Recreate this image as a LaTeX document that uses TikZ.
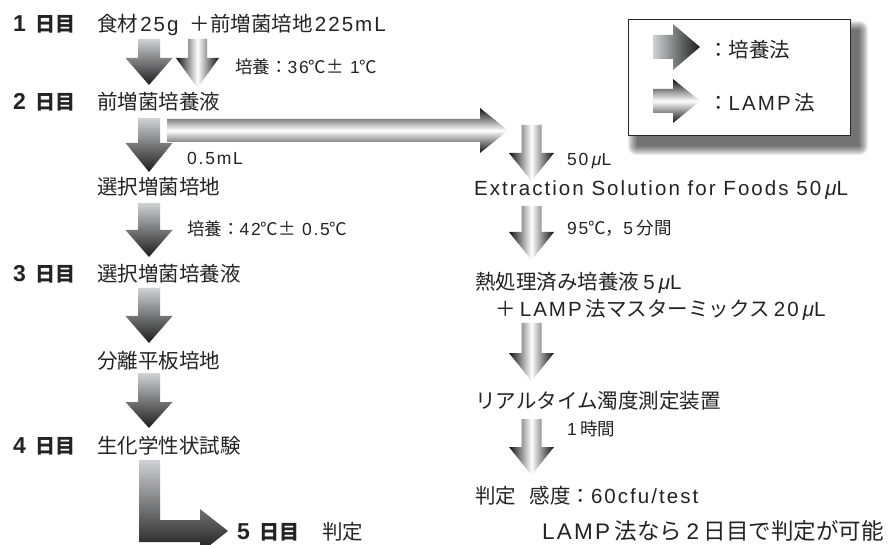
\documentclass[tikz,border=0pt]{standalone}
\usepackage{fontspec}
\setmainfont{Noto Sans CJK JP}
\newfontfamily\lat{Liberation Sans}[Scale=1.0,LetterSpace=10]
\newcommand\la[1]{{\lat #1}}
\newcommand\mic{{\lat\itshape μ}}
\newcommand\g{\hspace{0.2em}}
\newcommand\gs{\hspace{0.1em}}
\newcommand\dnum[1]{\makebox[22pt][l]{\fontsize{23}{24}\selectfont\la{#1}}}
\definecolor{cultlight}{RGB}{208,209,211}
\definecolor{cultdark}{RGB}{28,28,28}
\definecolor{lampdark}{RGB}{15,15,15}
\definecolor{txtc}{RGB}{35,35,35}
\tikzset{
  txt/.style={anchor=west, inner sep=0pt, text=txtc, font=\fontsize{20.5}{24}\selectfont, text height=18pt, text depth=2.5pt},
  sml/.style={txt, font=\fontsize{17.5}{20}\selectfont, text height=15.4pt, text depth=2.1pt},
  daylab/.style={txt, font=\fontsize{20}{24}\selectfont\bfseries},
  bigtxt/.style={txt, font=\fontsize{22.5}{26}\selectfont, text height=19.8pt, text depth=2.7pt},
  cultV/.style={top color=cultlight, bottom color=cultdark},
  cultH/.style={left color=cultlight, right color=cultdark},
  lampV/.style={left color=lampdark, right color=lampdark, middle color=white},
  lampH/.style={top color=lampdark, bottom color=lampdark, middle color=white},
}
% vertical block arrow: style, cx, top, head start, tip, shaft half width, head half width
\newcommand\varrow[7]{\shade[#1] (#2-#6,#3) -- (#2+#6,#3) -- (#2+#6,#4) -- (#2+#7,#4) -- (#2,#5) -- (#2-#7,#4) -- (#2-#6,#4) -- cycle;}
% horizontal block arrow: style, cy, left, head start, tip, shaft half, head half
\newcommand\harrow[7]{\shade[#1] (#3,#2-#6) -- (#4,#2-#6) -- (#4,#2-#7) -- (#5,#2) -- (#4,#2+#7) -- (#4,#2+#6) -- (#3,#2+#6) -- cycle;}
\begin{document}
\begin{tikzpicture}[x=1pt,y=-1pt]
\useasboundingbox (0,0) rectangle (889,545);
\fill[white] (0,0) rectangle (889,545);
\clip (0,0) rectangle (889,545);

% ---------- legend ----------
\foreach \i in {0,...,9} {
  \fill[black, opacity=0.075, rounded corners=\i pt] (628+9-\i,19+11-\i) rectangle (850+9+\i,135+11+\i);
}
\node[draw=black!85, line width=1.3pt, fill=white, inner sep=0pt, minimum width=222pt, minimum height=116pt, anchor=north west] (legend) at (628,19) {};
\harrow{cultH}{47}{653}{673}{700}{12}{23}
\harrow{lampH}{101}{653}{673}{700}{12}{22}
\node[txt] (lg1) at (708,50) {：培養法};
\node[txt] (lg2) at (708,103) {：\la{LAMP}\g{}法};

% ---------- culture method (left) ----------
\node[daylab] (d1) at (13,24) {\dnum{1}日目};
\node[txt] (t1) at (97,24) {食材\gs{}\la{25g}\hspace{0.55em}＋前増菌培地\gs{}\la{225mL}};
\varrow{cultV}{149}{39}{58}{85}{11}{23.5}
\varrow{lampV}{197.5}{39}{58}{88}{9.5}{21.5}
\node[sml] (c1) at (235,67) {培養：\la{36}℃±\hspace{0.35em}\la{1}℃};

\node[daylab] (d2) at (13,102) {\dnum{2}日目};
\node[txt] (t2) at (97,102) {前増菌培養液};
\varrow{cultV}{149}{118}{143}{172}{11}{23.5}
\harrow{lampH}{130.5}{167}{480}{508}{11.5}{22.5}
\node[sml] (l05) at (187,158) {\la{0.5mL}};

\node[txt] (t3) at (97,187) {選択増菌培地};
\varrow{cultV}{149}{203}{230}{257}{11}{23.5}
\node[sml] (c2) at (187,229) {培養：\la{42}℃±\hspace{0.35em}\la{0.5}℃};

\node[daylab] (d3) at (13,274) {\dnum{3}日目};
\node[txt] (t4) at (97,274) {選択増菌培養液};
\varrow{cultV}{149}{288}{316}{343}{11}{23.5}

\node[txt] (t5) at (97,361) {分離平板培地};
\varrow{cultV}{149}{373}{402}{428}{11}{23.5}

\node[daylab] (d4) at (13,446) {\dnum{4}日目};
\node[txt] (t6) at (97,446) {生化学性状試験};
\shade[cultV] (139,460) -- (160,460) -- (160,520) -- (200,520) -- (200,509) -- (228,531) -- (200,553) -- (200,542) -- (139,542) -- cycle;

\node[daylab] (d5) at (237,532) {\dnum{5}日目};
\node[txt] (t7) at (322,532) {判定};

% ---------- LAMP method (right) ----------
\varrow{lampV}{531.5}{125}{153}{181}{10}{22.5}
\node[sml] (r0) at (567,159) {\la{50}\g{}\mic\la{L}};
\node[txt] (r1) at (474,188) {\la{Extraction Solution for Foods 50}\g{}\mic\la{L}};
\varrow{lampV}{531.5}{206}{232}{260}{10}{22.5}
\node[sml] (r2) at (567,228) {\la{95}℃，\la{5}\g{}分間};
\node[txt] (r3) at (475,282) {熱処理済み培養液\g{}\la{5}\g{}\mic\la{L}};
\node[txt] (r4) at (495,309) {＋\g{}\la{LAMP}\g{}法マスターミックス\g{}\la{20}\g{}\mic\la{L}};
\varrow{lampV}{531.5}{323}{353}{381}{10}{22.5}
\node[txt] (r5) at (475,401) {リアルタイム濁度測定装置};
\varrow{lampV}{531.5}{419}{447}{475}{10}{22.5}
\node[sml] (r6) at (567,429) {\la{1}\g{}時間};
\node[txt] (r7) at (475,496) {判定\hspace{0.65em}感度：\la{60cfu/test}};
\node[bigtxt] (r8) at (542,531) {\la{LAMP}\g{}法なら\g{}\la{2}\g{}日目で判定が可能};
\end{tikzpicture}
\end{document}
